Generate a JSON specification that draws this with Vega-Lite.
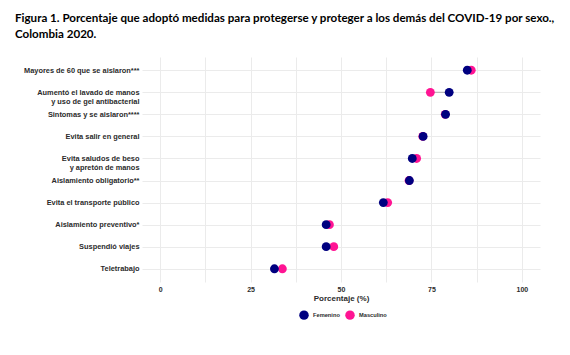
{
  "$schema": "https://vega.github.io/schema/vega-lite/v6.json",
  "width": 398,
  "height": 225,
  "autosize": {"type": "none"},
  "padding": {"left": 142, "top": 57, "right": 30, "bottom": 73},
  "background": "white",
  "title": {
    "text": ["Figura 1. Porcentaje que adoptó medidas para protegerse y proteger a los demás del COVID-19 por sexo.,", "Colombia 2020."],
    "anchor": "start",
    "frame": "group",
    "dx": -127,
    "offset": 16,
    "font": "Lato",
    "fontSize": 11.6,
    "fontWeight": "bold",
    "color": "#000000",
    "lineHeight": 16
  },
  "config": {
    "view": {"stroke": null},
    "font": "Liberation Sans"
  },
  "data": {
    "values": [
      {"medida": "Mayores de 60 que se aislaron***", "sexo": "Masculino", "valor": 86.0},
      {"medida": "Mayores de 60 que se aislaron***", "sexo": "Femenino", "valor": 84.9},
      {"medida": "Aumentó el lavado de manos|y uso de gel antibacterial", "sexo": "Masculino", "valor": 74.7},
      {"medida": "Aumentó el lavado de manos|y uso de gel antibacterial", "sexo": "Femenino", "valor": 79.9},
      {"medida": "Sintomas y se aislaron****", "sexo": "Masculino", "valor": 78.8},
      {"medida": "Sintomas y se aislaron****", "sexo": "Femenino", "valor": 78.9},
      {"medida": "Evita salir en general", "sexo": "Masculino", "valor": 72.6},
      {"medida": "Evita salir en general", "sexo": "Femenino", "valor": 72.7},
      {"medida": "Evita saludos de beso|y apretón de manos", "sexo": "Masculino", "valor": 70.9},
      {"medida": "Evita saludos de beso|y apretón de manos", "sexo": "Femenino", "valor": 69.7},
      {"medida": "Aislamiento obligatorio**", "sexo": "Masculino", "valor": 68.8},
      {"medida": "Aislamiento obligatorio**", "sexo": "Femenino", "valor": 68.9},
      {"medida": "Evita el transporte público", "sexo": "Masculino", "valor": 62.9},
      {"medida": "Evita el transporte público", "sexo": "Femenino", "valor": 61.7},
      {"medida": "Aislamiento preventivo*", "sexo": "Masculino", "valor": 46.8},
      {"medida": "Aislamiento preventivo*", "sexo": "Femenino", "valor": 45.9},
      {"medida": "Suspendió viajes", "sexo": "Masculino", "valor": 48.0},
      {"medida": "Suspendió viajes", "sexo": "Femenino", "valor": 45.9},
      {"medida": "Teletrabajo", "sexo": "Masculino", "valor": 33.8},
      {"medida": "Teletrabajo", "sexo": "Femenino", "valor": 31.6}
    ]
  },
  "encoding": {
    "y": {
      "field": "medida",
      "type": "nominal",
      "sort": [
        "Mayores de 60 que se aislaron***",
        "Aumentó el lavado de manos|y uso de gel antibacterial",
        "Sintomas y se aislaron****",
        "Evita salir en general",
        "Evita saludos de beso|y apretón de manos",
        "Aislamiento obligatorio**",
        "Evita el transporte público",
        "Aislamiento preventivo*",
        "Suspendió viajes",
        "Teletrabajo"
      ],
      "scale": {"type": "point", "padding": 0.6},
      "axis": {
        "title": null,
        "domain": false,
        "ticks": false,
        "grid": true,
        "gridColor": "#ebebeb",
        "gridWidth": 1,
        "labelExpr": "split(datum.value, '|')",
        "labelFont": "Liberation Sans",
        "labelFontSize": 7.4,
        "labelFontWeight": "bold",
        "labelColor": "#2b2b2b",
        "labelPadding": 3,
        "labelLineHeight": 9
      }
    }
  },
  "layer": [
    {
      "mark": {"type": "rule", "color": "#9a9a9a", "strokeWidth": 0.8},
      "encoding": {
        "x": {"aggregate": "min", "field": "valor", "type": "quantitative"},
        "x2": {"aggregate": "max", "field": "valor"}
      }
    },
    {
      "mark": {"type": "point", "filled": true, "opacity": 1, "size": 78},
      "encoding": {
        "x": {
          "field": "valor",
          "type": "quantitative",
          "scale": {"domain": [-5, 105], "nice": false, "zero": false},
          "axis": {
            "title": "Porcentaje (%)",
            "titleFont": "Liberation Sans",
            "titleFontSize": 8,
            "titleFontWeight": "bold",
            "titleColor": "#2b2b2b",
            "titlePadding": 2,
            "values": [0, 12.5, 25, 37.5, 50, 62.5, 75, 87.5, 100],
            "labelExpr": "datum.value % 25 == 0 ? datum.label : ''",
            "labelFont": "Liberation Sans",
            "labelFontSize": 7,
            "labelFontWeight": "bold",
            "labelColor": "#2b2b2b",
            "labelPadding": 3,
            "domain": false,
            "ticks": false,
            "grid": true,
            "gridColor": "#ebebeb",
            "gridWidth": 1
          }
        },
        "color": {
          "field": "sexo",
          "type": "nominal",
          "scale": {"domain": ["Femenino", "Masculino"], "range": ["#000080", "#FF1493"]},
          "legend": {
            "title": null,
            "orient": "none",
            "legendX": 157,
            "legendY": 253,
            "direction": "horizontal",
            "symbolType": "circle",
            "symbolSize": 90,
            "symbolOpacity": 1,
            "labelFont": "Liberation Sans",
            "labelFontSize": 5.7,
            "labelFontWeight": "bold",
            "labelColor": "#2b2b2b",
            "columnPadding": 5,
            "symbolStrokeWidth": 0
          }
        },
        "order": {"field": "sexo", "sort": "descending"}
      }
    }
  ]
}
